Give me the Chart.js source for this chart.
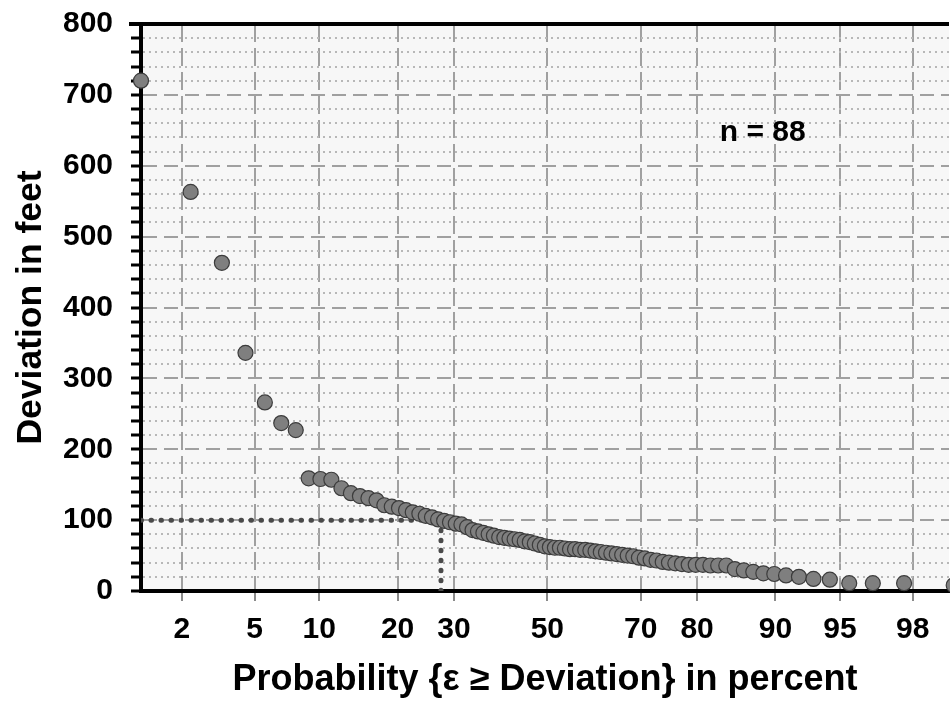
<!DOCTYPE html>
<html>
<head>
<meta charset="utf-8">
<script src="https://cdn.jsdelivr.net/npm/chart.js@4.4.1/dist/chart.umd.min.js"></script>
<style>
  html, body { margin: 0; padding: 0; background: #fff; overflow: hidden; }
  #wrap { width: 950px; height: 702px; }
</style>
</head>
<body>
<div id="wrap"><canvas id="myChart"></canvas></div>
<script>
// probability of exceedance (plotting position, percent) for each ranked deviation
const probPct = [
  1.12, 2.25, 3.37, 4.49, 5.62, 6.74, 7.87, 8.99, 10.11, 11.24,
  12.36, 13.48, 14.61, 15.73, 16.85, 17.98, 19.10, 20.22, 21.35, 22.47,
  23.60, 24.72, 25.84, 26.97, 28.09, 29.21, 30.34, 31.46, 32.58, 33.71,
  34.83, 35.96, 37.08, 38.20, 39.33, 40.45, 41.57, 42.70, 43.82, 44.94,
  46.07, 47.19, 48.31, 49.44, 50.56, 51.69, 52.81, 53.93, 55.06, 56.18,
  57.30, 58.43, 59.55, 60.67, 61.80, 62.92, 64.04, 65.17, 66.29, 67.42,
  68.54, 69.66, 70.79, 71.91, 73.03, 74.16, 75.28, 76.40, 77.53, 78.65,
  79.78, 80.90, 82.02, 83.15, 84.27, 85.39, 86.52, 87.64, 88.76, 89.89,
  91.01, 92.13, 93.26, 94.38, 95.51, 96.63, 97.75, 98.88
];
// deviation in feet
const deviationFt = [
  720, 563, 463, 336, 266, 237, 227, 159, 158, 157,
  145, 138, 134, 131, 128, 121, 119, 117, 114, 111,
  109, 106, 104, 101, 99, 97, 95, 94, 90, 86,
  84, 82, 80, 78, 76, 75, 74, 73, 72, 70,
  69, 67, 65, 63, 62, 61, 61, 60, 59, 59,
  58, 58, 57, 56, 55, 54, 53, 52, 51, 50,
  49, 47, 46, 44, 43, 41, 40, 39, 38, 37,
  37, 37, 36, 36, 36, 31, 29, 27, 25, 24,
  22, 20, 17, 16, 11, 11, 11, 8
];
const xTicks = [2, 5, 10, 20, 30, 50, 70, 80, 90, 95, 98];
const refLine = [{x: 1.12, y: 100}, {x: 27.5, y: 100}, {x: 27.5, y: 0}]; // dotted 100 ft read-off
const nLabel = 'n = 88';

// inverse normal cdf (Acklam) - used for the probability axis
function probit(p) {
  const a = [-3.969683028665376e+01, 2.209460984245205e+02, -2.759285104469687e+02, 1.383577518672690e+02, -3.066479806614716e+01, 2.506628277459239e+00];
  const b = [-5.447609879822406e+01, 1.615858368580409e+02, -1.556989798598866e+02, 6.680131188771972e+01, -1.328068155288572e+01];
  const c = [-7.784894002430293e-03, -3.223964580411365e-01, -2.400758277161838e+00, -2.549732539343734e+00, 4.374664141464968e+00, 2.938163982698783e+00];
  const d = [7.784695709041462e-03, 3.224671290700398e-01, 2.445134137142996e+00, 3.754408661907416e+00];
  const pl = 0.02425;
  let q, r;
  if (p < pl) {
    q = Math.sqrt(-2 * Math.log(p));
    return (((((c[0]*q+c[1])*q+c[2])*q+c[3])*q+c[4])*q+c[5]) / ((((d[0]*q+d[1])*q+d[2])*q+d[3])*q+1);
  }
  if (p > 1 - pl) {
    q = Math.sqrt(-2 * Math.log(1 - p));
    return -(((((c[0]*q+c[1])*q+c[2])*q+c[3])*q+c[4])*q+c[5]) / ((((d[0]*q+d[1])*q+d[2])*q+d[3])*q+1);
  }
  q = p - 0.5; r = q * q;
  return (((((a[0]*r+a[1])*r+a[2])*r+a[3])*r+a[4])*r+a[5])*q / (((((b[0]*r+b[1])*r+b[2])*r+b[3])*r+b[4])*r+1);
}

// normal probability scale
class ProbitScale extends Chart.LinearScale {
  getPixelForValue(v) {
    const lo = probit(this.min / 100), hi = probit(this.max / 100);
    return this.getPixelForDecimal((probit(v / 100) - lo) / (hi - lo));
  }
}
ProbitScale.id = 'probit';
ProbitScale.defaults = Chart.LinearScale.defaults;
Chart.register(ProbitScale);

const plotDecor = {
  id: 'plotDecor',
  beforeDraw(chart) {
    const {ctx, chartArea: a} = chart;
    ctx.save();
    ctx.fillStyle = '#f7f7f7';
    ctx.fillRect(a.left, a.top, a.right - a.left, a.bottom - a.top);
    ctx.restore();
  },
  afterDraw(chart) {
    const {ctx, chartArea: a, scales} = chart;
    ctx.save();
    ctx.strokeStyle = '#000';
    ctx.lineWidth = 4;
    ctx.beginPath();
    ctx.moveTo(a.left - 12, a.top);
    ctx.lineTo(a.right, a.top);
    ctx.stroke();
    ctx.fillStyle = '#000';
    ctx.font = 'bold 30px "Liberation Sans", Arial, sans-serif';
    ctx.textAlign = 'center';
    ctx.textBaseline = 'middle';
    ctx.fillText(nLabel, scales.x.getPixelForValue(88.7), scales.y.getPixelForValue(646));
    ctx.restore();
  }
};

const ctx = document.getElementById('myChart');
new Chart(ctx, {
  type: 'scatter',
  data: {
    datasets: [{
      label: 'deviation',
      data: probPct.map((p, i) => ({x: p, y: deviationFt[i]})),
      backgroundColor: '#7f7f7f',
      borderColor: '#3c3c3c',
      borderWidth: 1.2,
      pointRadius: 7.5,
      clip: false,
      order: 0
    }, {
      label: 'ref',
      type: 'line',
      data: refLine,
      showLine: true,
      borderColor: '#4a4a4a',
      borderWidth: 5,
      borderDash: [0.5, 9.5],
      borderCapStyle: 'round',
      pointRadius: 0,
      fill: false,
      order: 1
    }]
  },
  options: {
    responsive: true,
    maintainAspectRatio: false,
    animation: false,
    events: [],
    layout: { autoPadding: false, padding: { top: 24, right: 1, left: 0, bottom: 0 } },
    plugins: { legend: { display: false }, tooltip: { enabled: false } },
    scales: {
      x: {
        type: 'probit',
        min: 1.12,
        max: 98.8,
        bounds: 'data',
        afterBuildTicks: s => { s.ticks = xTicks.map(v => ({value: v})); },
        afterFit: s => { s.height = 111; s.paddingLeft = 0; s.paddingRight = 0; },
        ticks: {
          color: '#000',
          padding: 11,
          autoSkip: false,
          maxRotation: 0,
          font: { family: '"Liberation Sans", Arial, sans-serif', size: 30, weight: 'bold' },
          callback: v => v
        },
        grid: { color: '#a0a0a0', lineWidth: 2, tickColor: '#8a8a8a', tickLength: 10, tickWidth: 2 },
        border: { color: '#000', width: 4, dash: [18, 6] },
        title: {
          display: true,
          text: 'Probability {ε ≥ Deviation} in percent',
          color: '#000',
          padding: { top: 1, bottom: 0 },
          font: { family: '"Liberation Sans", Arial, sans-serif', size: 36, weight: 'bold' }
        }
      },
      y: {
        min: 0,
        max: 800,
        afterFit: s => { s.width = 141; s.paddingTop = 0; s.paddingBottom = 0; },
        ticks: {
          stepSize: 20,
          autoSkip: false,
          color: '#000',
          padding: 18,
          font: { family: '"Liberation Sans", Arial, sans-serif', size: 30, weight: 'bold' },
          callback: v => (v % 100 === 0 ? v : '')
        },
        grid: {
          color: c => (c.tick && c.tick.value % 100 === 0 ? '#a0a0a0' : '#b8b8b8'),
          lineWidth: 2,
          tickColor: '#000',
          tickLength: 10,
          tickWidth: 3
        },
        border: {
          color: '#000',
          width: 4,
          dash: c => (c.tick && c.tick.value % 100 === 0 ? [14, 7] : [2, 4])
        },
        title: {
          display: true,
          text: 'Deviation in feet',
          color: '#000',
          padding: { top: 10, bottom: 0 },
          font: { family: '"Liberation Sans", Arial, sans-serif', size: 35.5, weight: 'bold' }
        }
      }
    }
  },
  plugins: [plotDecor]
});
</script>
</body>
</html>
